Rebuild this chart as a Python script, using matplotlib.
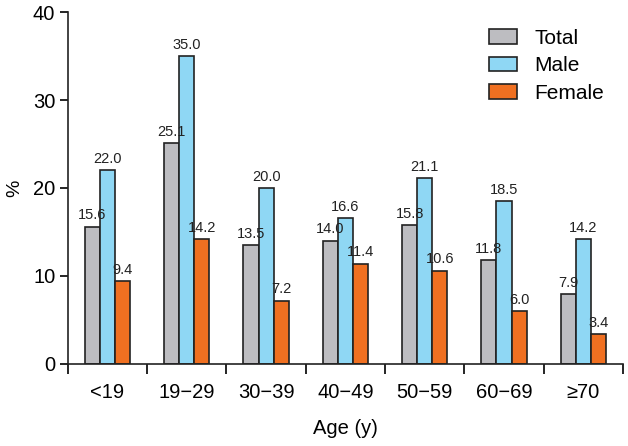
import matplotlib
matplotlib.use('Agg')
import matplotlib.pyplot as plt
import numpy as np

plt.rcParams['font.family'] = ['Liberation Sans', 'DejaVu Sans']

# age groups
ages = ['<19', '19\u221229', '30\u221239', '40\u221249', '50\u221259', '60\u221269', '\u226570']
total = [15.6, 25.1, 13.5, 14.0, 15.8, 11.8, 7.9]
male = [22.0, 35.0, 20.0, 16.6, 21.1, 18.5, 14.2]
female = [9.4, 14.2, 7.2, 11.4, 10.6, 6.0, 3.4]

fig = plt.figure(figsize=(6.28, 4.46), dpi=100)
ax = fig.add_axes([0.108, 0.184, 0.884, 0.789])

x = np.arange(len(ages))
w = 0.19
series = [(total, '#bdbdc1', 'Total', -w),
          (male, '#8fd7f4', 'Male', 0),
          (female, '#f07021', 'Female', w)]
for vals, col, lab, off in series:
    ax.bar(x + off, vals, w, color=col, edgecolor='#222222', linewidth=1.2, label=lab)
    for xi, v in zip(x + off, vals):
        ax.text(xi, v + 0.5, f'{v:.1f}', ha='center', va='bottom', fontsize=10.5, color='#222222')

ax.set_xlim(-0.5, len(ages) - 0.5)
ax.set_ylim(0, 40)
ax.set_yticks([0, 10, 20, 30, 40])
ax.set_xticks(x)
ax.set_xticklabels(ages)
ax.set_xticks(np.arange(-0.5, len(ages)), minor=True)
ax.tick_params(axis='x', which='major', length=0, pad=14, labelsize=14.5)
ax.tick_params(axis='x', which='minor', length=7, width=1.2, direction='out')
ax.tick_params(axis='y', length=6, width=1.2, labelsize=14.5, pad=3)
for s in ['top', 'right']:
    ax.spines[s].set_visible(False)
for s in ['left', 'bottom']:
    ax.spines[s].set_linewidth(1.2)
    ax.spines[s].set_color('#222222')

ax.set_ylabel('%', fontsize=14, labelpad=7)
ax.set_xlabel('Age (y)', fontsize=14.5, labelpad=12)

ax.legend(loc='upper right', bbox_to_anchor=(1.0, 1.005), frameon=False, fontsize=15,
          handlelength=1.35, handleheight=0.7, handletextpad=0.85, labelspacing=0.4)

fig.savefig('out.png', dpi=100)
